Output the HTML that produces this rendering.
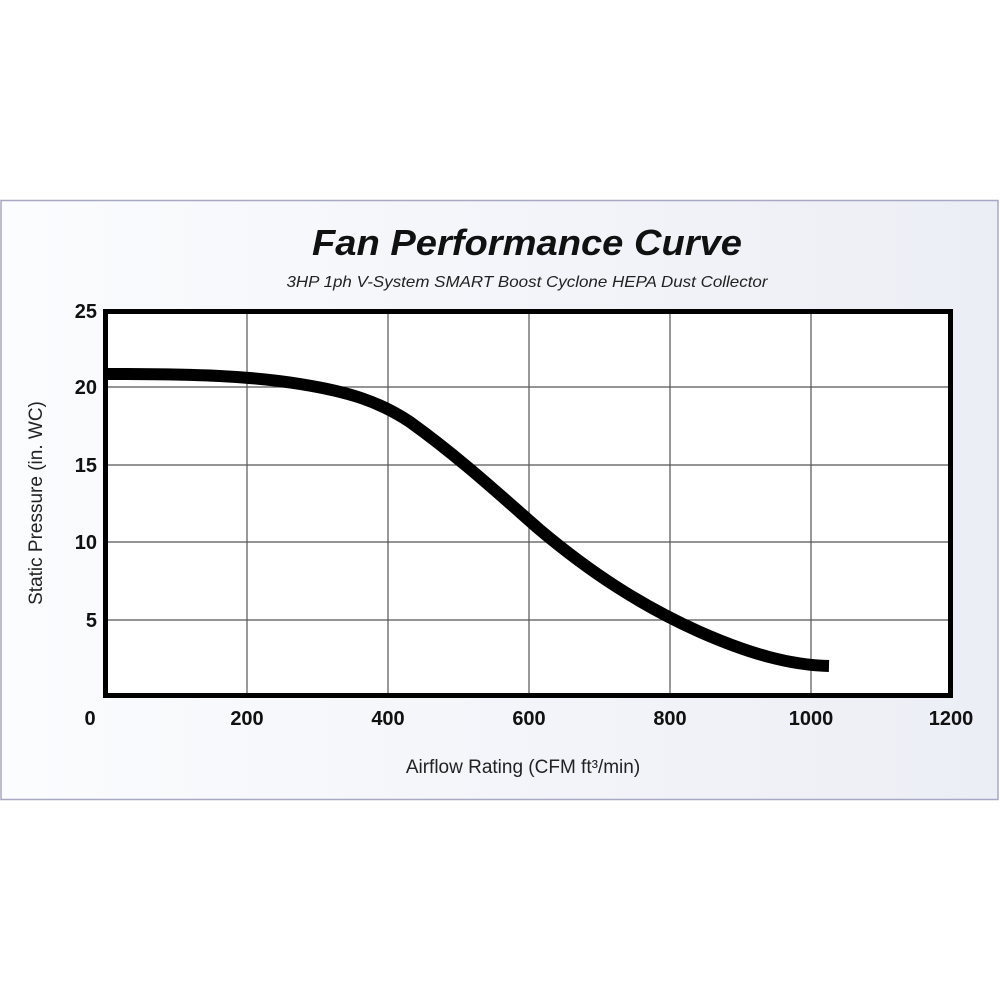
<!DOCTYPE html>
<html><head><style>
html,body{margin:0;padding:0;background:#fff;}
</style></head><body>
<svg width="1000" height="1000" viewBox="0 0 1000 1000" xmlns="http://www.w3.org/2000/svg">
<defs>
<linearGradient id="bg" x1="0" y1="0" x2="1" y2="0">
<stop offset="0" stop-color="#fbfcfe"/><stop offset="1" stop-color="#eceef5"/>
</linearGradient>
</defs>
<rect x="1" y="200.5" width="997" height="599" fill="url(#bg)" stroke="#a7a8c4" stroke-width="1.5"/>
<text x="527" y="255" text-anchor="middle" textLength="430" lengthAdjust="spacingAndGlyphs" font-family="Liberation Sans, sans-serif" font-weight="bold" font-style="italic" font-size="36" fill="#111">Fan Performance Curve</text>
<text x="527" y="287" text-anchor="middle" textLength="481" lengthAdjust="spacingAndGlyphs" font-family="Liberation Sans, sans-serif" font-style="italic" font-size="16" fill="#222">3HP 1ph V-System SMART Boost Cyclone HEPA Dust Collector</text>
<rect x="105.5" y="311.5" width="845" height="384" fill="#fff"/>
<g stroke="#555" stroke-width="1.2">
<line x1="247" y1="311" x2="247" y2="696"/><line x1="388" y1="311" x2="388" y2="696"/>
<line x1="529" y1="311" x2="529" y2="696"/><line x1="670" y1="311" x2="670" y2="696"/>
<line x1="811" y1="311" x2="811" y2="696"/>
<line x1="105" y1="387" x2="951" y2="387"/><line x1="105" y1="465" x2="951" y2="465"/>
<line x1="105" y1="542" x2="951" y2="542"/><line x1="105" y1="620" x2="951" y2="620"/>
</g>
<path d="M106,374 C200,374 250,376 300,384 C350,392 380,402 410,422 C460,458 500,495 540,530 C590,572 640,605 700,632 C750,654 790,665 829,666" fill="none" stroke="#000" stroke-width="12"/>
<rect x="105.5" y="311.5" width="845" height="384" fill="none" stroke="#000" stroke-width="5"/>
<g font-family="Liberation Sans, sans-serif" font-weight="bold" font-size="20" fill="#111" text-anchor="end">
<text x="97" y="318">25</text><text x="97" y="394">20</text><text x="97" y="472">15</text>
<text x="97" y="549">10</text><text x="97" y="627">5</text>
</g>
<g font-family="Liberation Sans, sans-serif" font-weight="bold" font-size="20" fill="#111" text-anchor="middle">
<text x="90" y="725">0</text><text x="247" y="725">200</text><text x="388" y="725">400</text>
<text x="529" y="725">600</text><text x="670" y="725">800</text><text x="811" y="725">1000</text><text x="951" y="725">1200</text>
</g>
<text x="523" y="773" text-anchor="middle" font-family="Liberation Sans, sans-serif" font-size="19" fill="#222">Airflow Rating (CFM ft³/min)</text>
<text transform="translate(42,503) rotate(-90)" text-anchor="middle" font-family="Liberation Sans, sans-serif" font-size="19" fill="#222">Static Pressure (in. WC)</text>
</svg>
</body></html>
